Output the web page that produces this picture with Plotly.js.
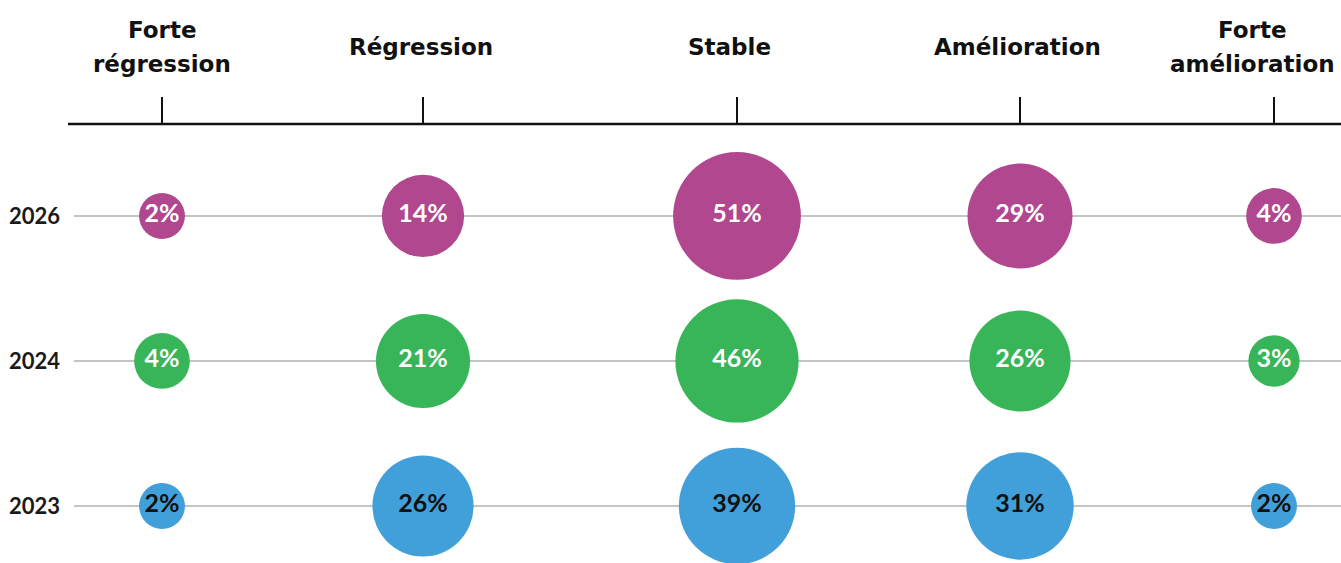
<!DOCTYPE html>
<html>
<head>
<meta charset="utf-8">
<script src="https://cdn.plot.ly/plotly-3.0.1.min.js"></script>
<style>
  html, body { margin: 0; padding: 0; background: #ffffff; }
  #chart { width: 1341px; height: 563px; }
</style>
</head>
<body>
<div id="chart"></div>
<script>
// Évolution attendue, part des répondants par année (%)
const categories = ['Forte régression', 'Régression', 'Stable', 'Amélioration', 'Forte amélioration'];
const categoryLabelLines = [['Forte', 'régression'], ['Régression'], ['Stable'], ['Amélioration'], ['Forte', 'amélioration']];
const years = ['2023', '2024', '2026'];
const values2026 = [2, 14, 51, 29, 4];
const values2024 = [4, 21, 46, 26, 3];
const values2023 = [2, 26, 39, 31, 2];

// Layout: column centres and header centres along the horizontal axis (axis units)
const columnPositions = [88, 349, 663, 946, 1200];
const headerPositions = [88, 347, 655, 943, 1178];
const xRange = [0, 1267];
const plotLeft = 74;
const plotTop = 124;
const plotWidth = 1341 - plotLeft;

// Bubble diameter in px grows with the share
function bubbleDiameter(v) {
  return 15 + 23.4 * Math.pow(v, 0.4);
}

function rowTrace(year, values, color, textColor) {
  return {
    type: 'scatter',
    mode: 'markers+text',
    x: columnPositions,
    y: values.map(() => year),
    text: values.map(v => v + '%'),
    textposition: 'middle center',
    textfont: { family: 'Lato, sans-serif', size: 25, weight: 700, color: textColor },
    marker: {
      size: values.map(bubbleDiameter),
      sizemode: 'diameter',
      color: color,
      opacity: 1,
      line: { width: 0 }
    },
    cliponaxis: true,
    hoverinfo: 'skip',
    showlegend: false
  };
}

const data = [
  rowTrace('2023', values2023, '#41a0da', '#111111'),
  rowTrace('2024', values2024, '#37b558', '#ffffff'),
  rowTrace('2026', values2026, '#b0478f', '#ffffff')
];

// Column headers above the ticks, one annotation per line
const headerFont = { family: 'DejaVu Sans, sans-serif', size: 23, weight: 700, color: '#111111' };
const annotations = [];
categoryLabelLines.forEach((lines, i) => {
  const centres = lines.length === 1 ? [47] : [30, 64];
  lines.forEach((line, j) => {
    annotations.push({
      text: line,
      x: headerPositions[i],
      xref: 'x',
      y: 1,
      yref: 'paper',
      yanchor: 'middle',
      xanchor: 'center',
      yshift: plotTop - centres[j],
      showarrow: false,
      font: headerFont
    });
  });
});

const layout = {
  width: 1341,
  height: 563,
  margin: { l: plotLeft, r: 0, t: plotTop, b: 0 },
  paper_bgcolor: '#ffffff',
  plot_bgcolor: '#ffffff',
  showlegend: false,
  annotations: annotations,
  shapes: [{
    type: 'line',
    xref: 'paper', yref: 'paper',
    x0: -6 / plotWidth, x1: 1,
    y0: 1, y1: 1,
    line: { color: '#111111', width: 2.5 }
  }],
  xaxis: {
    side: 'top',
    range: xRange,
    tickmode: 'array',
    tickvals: columnPositions,
    showticklabels: false,
    ticks: 'outside',
    ticklen: 26,
    tickwidth: 2,
    tickcolor: '#111111',
    showline: false,
    showgrid: false,
    zeroline: false,
    fixedrange: true
  },
  yaxis: {
    type: 'category',
    categoryorder: 'array',
    categoryarray: years,
    range: [-0.393, 2.634],
    showgrid: true,
    gridcolor: '#c4c4c4',
    gridwidth: 2,
    showline: false,
    zeroline: false,
    ticks: '',
    ticklabelstandoff: 13,
    tickfont: { family: 'Lato, sans-serif', size: 22, weight: 700, color: '#1a1a1a' },
    fixedrange: true
  }
};

Plotly.newPlot('chart', data, layout, { displayModeBar: false, staticPlot: true });
</script>
</body>
</html>
